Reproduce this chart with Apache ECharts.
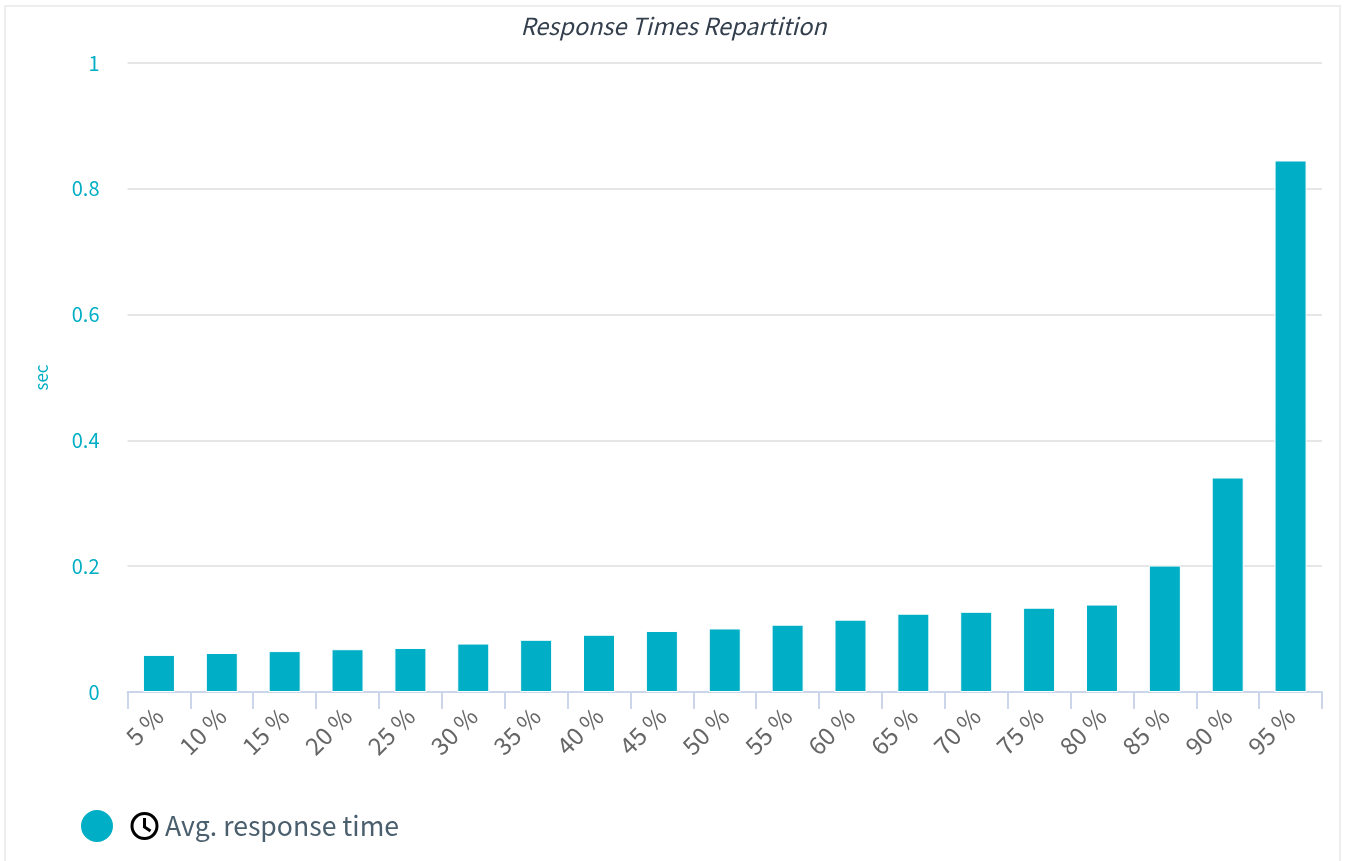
<!DOCTYPE html>
<html><head><meta charset="utf-8">
<style>html,body{margin:0;padding:0;background:#fff}#c{width:1345px;height:861px}</style>
<script src="https://cdn.jsdelivr.net/npm/echarts@6/dist/echarts.min.js"></script>
</head><body><div id="c"></div>
<script>
const categories=['5 %','10 %','15 %','20 %','25 %','30 %','35 %','40 %','45 %','50 %','55 %','60 %','65 %','70 %','75 %','80 %','85 %','90 %','95 %'];
const avgResponse=[0.059,0.062,0.065,0.068,0.070,0.077,0.083,0.091,0.097,0.101,0.107,0.115,0.1245,0.1275,0.134,0.139,0.201,0.341,0.845];
const yTicks={min:0,max:1,interval:0.2};
const font='"Noto Sans CJK JP","Noto Sans",sans-serif';
const teal='#00aec5';
const chart=echarts.init(document.getElementById('c'),null,{renderer:'canvas'});
chart.setOption({
  animation:false,
  backgroundColor:'#fff',
  title:{text:'Response Times Repartition',left:668.5,textAlign:'center',top:9,
    textStyle:{fontFamily:font,fontStyle:'italic',fontWeight:'normal',fontSize:23.5,color:'#333f4d'}},
  grid:{left:127.5,right:23,top:63,bottom:169,containLabel:false},
  legend:{left:74,top:803,icon:'circle',itemWidth:34,itemHeight:34,itemGap:0,
    data:['Avg. response time'],
    textStyle:{fontFamily:font,fontSize:26.6,color:'#4a5f6e',padding:[0,0,0,46]}},
  xAxis:{type:'category',data:categories,
    axisLine:{lineStyle:{color:'#ccd6eb',width:2}},
    axisTick:{show:true,length:17,alignWithLabel:false,lineStyle:{color:'#ccd6eb',width:2}},
    axisLabel:{rotate:45,interval:0,margin:20,fontFamily:font,fontSize:24,color:'#666666'}},
  yAxis:{type:'value',min:yTicks.min,max:yTicks.max,interval:yTicks.interval,
    name:'sec',nameLocation:'middle',nameGap:77.5,nameRotate:90,
    nameTextStyle:{fontFamily:font,fontSize:17,color:teal},
    axisLine:{show:false},axisTick:{show:false},
    axisLabel:{margin:28,fontFamily:font,fontSize:20,color:teal},
    splitLine:{lineStyle:{color:'#e6e6e6',width:2}}},
  series:[{name:'Avg. response time',type:'bar',data:avgResponse,barWidth:32,
    itemStyle:{color:teal,borderColor:'#ffffff',borderWidth:1}}],
  graphic:[
    {type:'rect',silent:true,z:-1,shape:{x:5,y:6,width:1335,height:860},
      style:{fill:'none',stroke:'#eeeeee',lineWidth:2}},
    {type:'group',left:130.5,top:812,silent:true,children:[
      {type:'circle',shape:{cx:15,cy:14,r:12.5},style:{fill:'#fff',stroke:'#000',lineWidth:3}},
      {type:'polyline',shape:{points:[[15,6],[15,15],[21,19]]},style:{fill:'none',stroke:'#000',lineWidth:3}}
    ]}
  ]
});
</script></body></html>
